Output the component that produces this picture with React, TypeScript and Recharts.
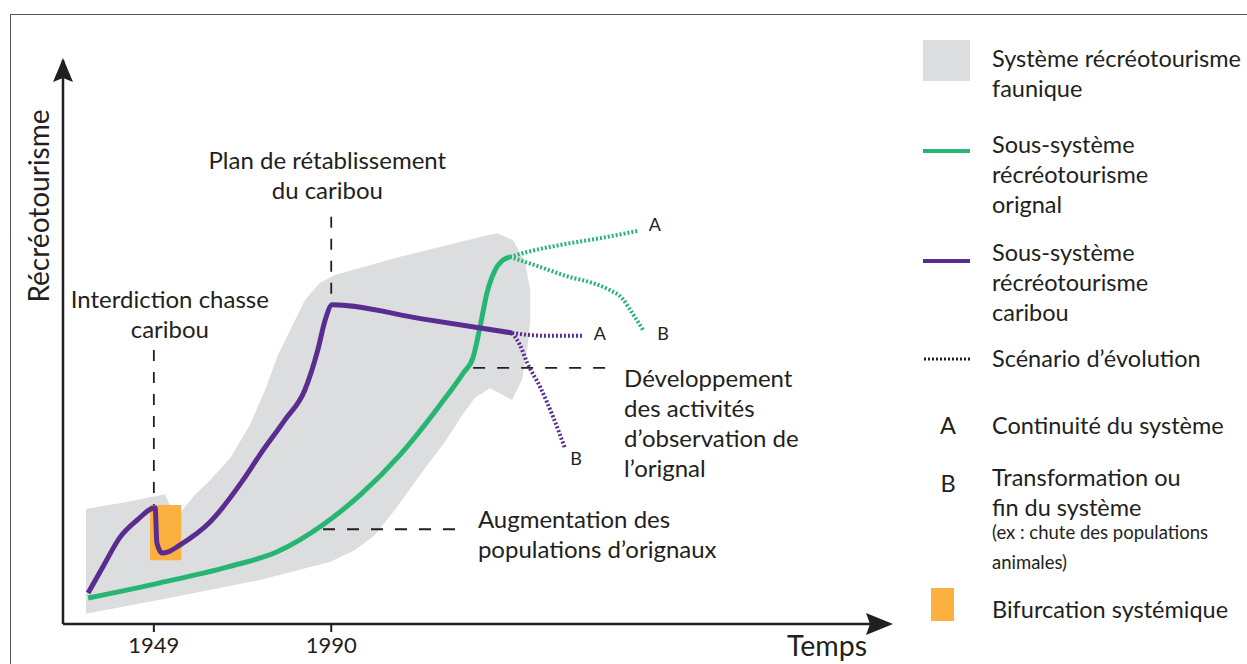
import React from 'react';
import { ComposedChart, XAxis, YAxis, Line, Scatter, ReferenceLine, ReferenceArea, ReferenceDot } from 'recharts';

const FONT = 'Lato, "Open Sans", sans-serif';
const INK = '#231f20';
const GREEN = '#27b573';
const PURPLE = '#5b2c8f';
const ORANGE = '#fbb040';
const GREY = '#dcddde';

// axe du temps (années) et niveau de récréotourisme (0-100)
const xMin = 1928;
const xMax = 2118;
const yearTicks = [1949, 1990];

// contour du système récréotourisme faunique [année, niveau]
const systemeFaunique: [number, number][] = [
  [1933.3, 1.8], [1933.3, 20.4], [1942.3, 21.6], [1951.6, 23.0], [1952.7, 21.1],
  [1954.6, 19.3], [1958.5, 22.9], [1962.0, 25.5], [1966.6, 29.4], [1971.2, 35.3],
  [1974.7, 41.5], [1977.7, 47.7], [1980.5, 52.1], [1983.9, 57.4], [1987.4, 60.5],
  [1990.9, 61.9], [2005.9, 65.1], [2024.4, 68.6], [2028.3, 69.3], [2032.0, 68.1],
  [2034.8, 64.2], [2036.0, 59.2], [2036.0, 53.9], [2035.3, 48.6], [2034.1, 43.3],
  [2031.8, 39.7], [2029.7, 40.6], [2026.7, 41.8], [2023.2, 40.1], [2019.8, 36.5],
  [2016.3, 32.3], [2010.5, 26.4], [2004.7, 20.2], [2000.1, 15.8], [1995.5, 13.1],
  [1989.7, 11.0], [1973.5, 7.8], [1950.4, 4.3],
];

// sous-système orignal
const orignal: [number, number][] = [
  [1933.8, 4.6], [1950.4, 7.3], [1965.9, 10.1], [1977.5, 12.8], [1988.1, 17.6],
  [1996.7, 22.9], [2005.9, 30.0], [2015.1, 38.8], [2020.5, 44.5], [2022.8, 47.3],
  [2024.4, 52.7], [2026.0, 58.7], [2027.9, 62.8], [2029.5, 64.4], [2031.3, 65.1],
];

// sous-système caribou
const caribou: [number, number][] = [
  [1933.8, 5.5], [1937.2, 10.1], [1941.2, 15.4], [1945.1, 18.4], [1949.3, 20.6],
  [1949.7, 14.4], [1950.9, 12.6], [1952.3, 12.8], [1955.0, 14.0], [1962.0, 18.1],
  [1969.6, 25.5], [1973.5, 30.0], [1979.3, 36.2], [1983.9, 41.5], [1986.9, 48.6],
  [1988.6, 53.9], [1990.2, 56.6], [2011.0, 54.1], [2031.8, 51.6],
];

// scénarios d'évolution
const orignalA: [number, number][] = [[2031.3, 65.1], [2036.0, 66.1], [2042.9, 67.2], [2052.1, 68.4], [2060.9, 69.7]];
const orignalB: [number, number][] = [
  [2031.3, 65.1], [2038.3, 63.3], [2045.2, 61.5], [2049.8, 60.6], [2054.4, 59.2],
  [2057.2, 57.8], [2059.1, 55.7], [2062.1, 52.1],
];
const caribouA: [number, number][] = [[2031.8, 51.6], [2039.4, 51.1], [2048.2, 51.1]];
const caribouB: [number, number][] = [[2031.8, 51.6], [2033.6, 49.5], [2035.3, 46.3], [2038.3, 42.0], [2041.3, 36.7], [2044.0, 31.2]];

// bifurcation systémique (1949)
const bifurcation = { x1: 1948.1, x2: 1955.3, y1: 11.3, y2: 21.1 };

// annotations : [année, niveau, lignes]
const notes: { t: number; v: number; lines: string[]; anchor: 'start' | 'middle' }[] = [
  { t: 1952.7, v: 57.8, lines: ['Interdiction chasse', 'caribou'], anchor: 'middle' },
  { t: 1989.1, v: 82.4, lines: ['Plan de rétablissement', 'du caribou'], anchor: 'middle' },
  { t: 2057.7, v: 43.8, lines: ['Développement', 'des activités', 'd\u2019observation de', 'l\u2019orignal'], anchor: 'start' },
  { t: 2023.9, v: 18.8, lines: ['Augmentation des', 'populations d\u2019orignaux'], anchor: 'start' },
];
const scenarioLabels: { t: number; v: number; label: string }[] = [
  { t: 2064.8, v: 70.9, label: 'A' },
  { t: 2066.7, v: 51.6, label: 'B' },
  { t: 2052.1, v: 51.6, label: 'A' },
  { t: 2046.6, v: 29.4, label: 'B' },
];

const pts = (arr: [number, number][]) => arr.map(([t, v]) => ({ t, v }));

const BlobFill = (props: any) => {
  const p = (props.points || []).filter((pt: any) => pt.x != null && pt.y != null);
  if (!p.length) return <g />;
  const d = p.map((pt: any, i: number) => `${i ? 'L' : 'M'}${pt.x},${pt.y}`).join(' ') + ' Z';
  return <path d={d} fill={GREY} stroke="none" />;
};

const NoteText = ({ cx, cy, lines, anchor }: any) => (
  <text x={cx} y={cy} textAnchor={anchor} dominantBaseline="central" fontFamily={FONT} fontSize={24} fill={INK}>
    {lines.map((l: string, i: number) => (
      <tspan key={i} x={cx} dy={i === 0 ? 0 : 30}>{l}</tspan>
    ))}
  </text>
);

const legendText: React.CSSProperties = {
  position: 'absolute', left: 992, fontSize: 23.5, lineHeight: '30px', whiteSpace: 'nowrap',
};

export default function App() {
  return (
    <div style={{ position: 'absolute', left: 0, top: 0, width: 1247, height: 664, background: '#fff', overflow: 'hidden', fontFamily: FONT, color: INK }}>
      <div style={{ position: 'absolute', left: 10, top: 14, right: -4, bottom: -4, borderTop: '1.5px solid #58595b', borderLeft: '1.5px solid #58595b' }} />
      <div style={{ position: 'absolute', left: 0, top: 0 }}>
        <ComposedChart width={900} height={664} margin={{ top: 60, right: 15, bottom: 10, left: 63 }}>
          <XAxis
            type="number"
            dataKey="t"
            domain={[xMin, xMax]}
            ticks={yearTicks}
            allowDataOverflow
            height={30}
            tickSize={8}
            tickMargin={5}
            axisLine={{ stroke: INK, strokeWidth: 2.5 }}
            tickLine={{ stroke: INK, strokeWidth: 2 }}
            tick={{ fill: INK, fontSize: 22, fontFamily: FONT }}
          />
          <YAxis type="number" domain={[0, 100]} hide allowDataOverflow />
          <Scatter data={pts(systemeFaunique)} dataKey="v" line={BlobFill} shape={() => <g />} isAnimationActive={false} zIndex={50} />
          <ReferenceArea x1={bifurcation.x1} x2={bifurcation.x2} y1={bifurcation.y1} y2={bifurcation.y2} fill={ORANGE} fillOpacity={1} stroke="none" zIndex={60} />
          <ReferenceLine x={xMin} stroke={INK} strokeWidth={2.5} zIndex={500} />
          <ReferenceLine segment={[{ x: 1949, y: 48.6 }, { x: 1949, y: 21.1 }]} stroke={INK} strokeWidth={1.8} strokeDasharray="11 11" zIndex={350} />
          <ReferenceLine segment={[{ x: 1990, y: 72.2 }, { x: 1990, y: 56.9 }]} stroke={INK} strokeWidth={1.8} strokeDasharray="11 11" zIndex={350} />
          <ReferenceLine segment={[{ x: 2022.8, y: 45.4 }, { x: 2054.4, y: 45.4 }]} stroke={INK} strokeWidth={1.8} strokeDasharray="12 12" zIndex={350} />
          <ReferenceLine segment={[{ x: 1988.1, y: 16.8 }, { x: 2020.2, y: 16.8 }]} stroke={INK} strokeWidth={1.8} strokeDasharray="12 12" zIndex={350} />
          <Line data={pts(orignalA)} dataKey="v" type="monotone" stroke={GREEN} strokeWidth={4} strokeDasharray="2 2" dot={false} isAnimationActive={false} />
          <Line data={pts(orignalB)} dataKey="v" type="monotone" stroke={GREEN} strokeWidth={4} strokeDasharray="2 2" dot={false} isAnimationActive={false} />
          <Line data={pts(caribouA)} dataKey="v" type="monotone" stroke={PURPLE} strokeWidth={4} strokeDasharray="2 2" dot={false} isAnimationActive={false} />
          <Line data={pts(caribouB)} dataKey="v" type="monotone" stroke={PURPLE} strokeWidth={4} strokeDasharray="2 2" dot={false} isAnimationActive={false} />
          <Line data={pts(orignal)} dataKey="v" type="monotone" stroke={GREEN} strokeWidth={5} dot={false} isAnimationActive={false} />
          <Line data={pts(caribou)} dataKey="v" type="monotone" stroke={PURPLE} strokeWidth={5} dot={false} isAnimationActive={false} />
          <ReferenceDot x={xMax} y={0} r={0} ifOverflow="visible" zIndex={600}
            shape={(p: any) => <polygon points={`${p.cx + 8},${p.cy} ${p.cx - 19},${p.cy - 11} ${p.cx - 15},${p.cy} ${p.cx - 19},${p.cy + 11}`} fill={INK} />} />
          <ReferenceDot x={xMin} y={100} r={0} ifOverflow="visible" zIndex={600}
            shape={(p: any) => <polygon points={`${p.cx},${p.cy - 2} ${p.cx + 10},${p.cy + 22} ${p.cx},${p.cy + 18} ${p.cx - 10},${p.cy + 22}`} fill={INK} />} />
          {notes.map((n, i) => (
            <ReferenceDot key={`n${i}`} x={n.t} y={n.v} r={0} ifOverflow="visible" zIndex={2000}
              shape={(p: any) => <NoteText cx={p.cx} cy={p.cy} lines={n.lines} anchor={n.anchor} />} />
          ))}
          {scenarioLabels.map((s, i) => (
            <ReferenceDot key={`s${i}`} x={s.t} y={s.v} r={0} ifOverflow="visible" zIndex={2000}
              shape={(p: any) => (
                <text x={p.cx} y={p.cy} textAnchor="middle" dominantBaseline="central" fontFamily={FONT} fontSize={18} fill={INK}>{s.label}</text>
              )} />
          ))}
        </ComposedChart>
      </div>

      {/* titres des axes */}
      <div style={{ position: 'absolute', left: 37.5, top: 206, transform: 'translate(-50%, -50%) rotate(-90deg)', fontSize: 28, whiteSpace: 'nowrap' }}>Récréotourisme</div>
      <div style={{ position: 'absolute', left: 827, top: 645, transform: 'translate(-50%, -50%)', fontSize: 28.5, whiteSpace: 'nowrap' }}>Temps</div>

      {/* légende */}
      <div style={{ position: 'absolute', left: 923, top: 40, width: 47, height: 41, background: GREY }} />
      <div style={{ ...legendText, top: 43 }}>Système récréotourisme<br />faunique</div>

      <div style={{ position: 'absolute', left: 923, top: 149, width: 47, height: 4, background: GREEN }} />
      <div style={{ ...legendText, top: 129 }}>Sous-système<br />récréotourisme<br />orignal</div>

      <div style={{ position: 'absolute', left: 923, top: 259, width: 47, height: 4, background: PURPLE }} />
      <div style={{ ...legendText, top: 237 }}>Sous-système<br />récréotourisme<br />caribou</div>

      <svg style={{ position: 'absolute', left: 922, top: 354 }} width={50} height={10}>
        <line x1={2} y1={5} x2={48} y2={5} stroke={INK} strokeWidth={3} strokeDasharray="2 2" />
      </svg>
      <div style={{ ...legendText, top: 343 }}>Scénario d{'\u2019'}évolution</div>

      <div style={{ ...legendText, left: 936, width: 24, textAlign: 'center', top: 410 }}>A</div>
      <div style={{ ...legendText, top: 410 }}>Continuité du système</div>

      <div style={{ ...legendText, left: 936, width: 24, textAlign: 'center', top: 468 }}>B</div>
      <div style={{ ...legendText, top: 462 }}>Transformation ou<br />fin du système</div>
      <div style={{ ...legendText, top: 517, fontSize: 18.5 }}>(ex : chute des populations<br />animales)</div>

      <div style={{ position: 'absolute', left: 931, top: 588, width: 23, height: 33, background: ORANGE }} />
      <div style={{ ...legendText, top: 594 }}>Bifurcation systémique</div>
    </div>
  );
}
